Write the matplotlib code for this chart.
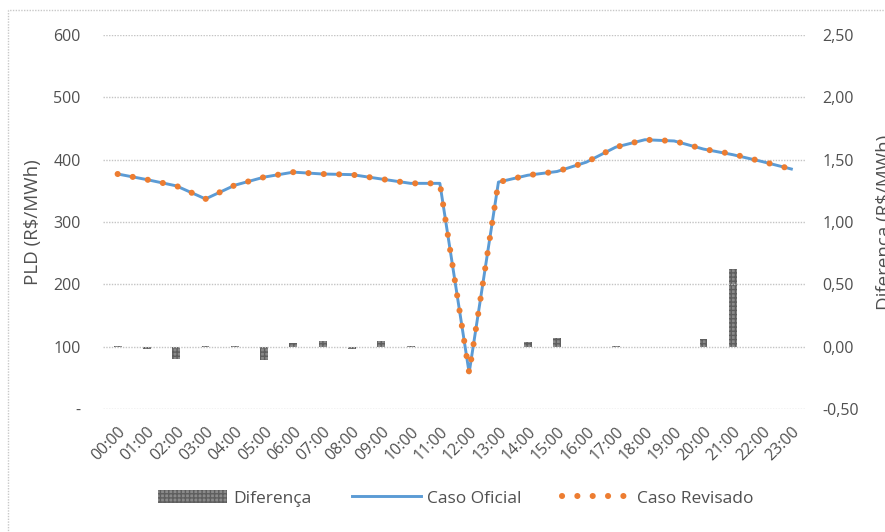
import matplotlib
matplotlib.use('Agg')
import matplotlib.pyplot as plt
import matplotlib.ticker as mticker
from matplotlib.patches import Rectangle, Patch
from matplotlib.lines import Line2D
import numpy as np

plt.rcParams['font.family'] = ['Open Sans', 'DejaVu Sans']

hours = ['{:02d}:00'.format(h) for h in range(24)]

# PLD (R$/MWh), eixo esquerdo
caso_oficial = [377, 368, 358, 337, 359, 372, 380, 377, 376, 369, 362, 362,
                58, 364, 375, 381, 396, 420, 432, 430, 417, 408, 397, 385]
caso_revisado = [377, 368, 358, 337, 359, 372, 380, 377, 376, 369, 362, 362,
                 58, 364, 375, 381, 396, 420, 432, 430, 417, 409, 397, 385]
# diferenca (R$/MWh), eixo direito
diferenca = [0.005, -0.02, -0.10, 0.005, 0.005, -0.105, 0.03, 0.045, -0.02, 0.045,
             0.005, 0.0, 0.0, 0.0, 0.04, 0.07, -0.005, 0.005, 0.0, 0.0,
             0.065, 0.625, 0.0, -0.005]

left_ticks = [0, 100, 200, 300, 400, 500, 600]
right_ticks = [-0.5, 0.0, 0.5, 1.0, 1.5, 2.0, 2.5]

txt_col = '#505050'
blue = '#5B9BD5'
orange = '#ED7D31'
dots = (0, (0.01, 2.5))

fig = plt.figure(figsize=(8.85, 5.32), dpi=100)
ax = fig.add_axes([103/885, 1-409/532, 703/885, 374/532])
ax2 = ax.twinx()

x = np.arange(len(hours))

# bars on the secondary axis
ax2.bar(x, diferenca, width=0.27, facecolor='#8a8a8a', edgecolor='#5e5e5e',
        hatch='++++', linewidth=0)
ax2.set_ylim(-0.5, 2.5)
ax2.set_yticks(right_ticks)
ax2.yaxis.set_major_formatter(mticker.FuncFormatter(lambda v, p: '{:.2f}'.format(v).replace('.', ',')))

ax.plot(x, caso_oficial, color=blue, lw=2.1, zorder=3)
ax.plot(x, caso_revisado, color=orange, lw=4.4, linestyle=dots,
        dash_capstyle='round', zorder=4)
ax.set_ylim(0, 600)
ax.set_xlim(-0.5, 23.5)
ax.set_yticks(left_ticks)
ax.set_yticklabels(['-' if v == 0 else str(v) for v in left_ticks])
ax.set_xticks(x)
ax.set_xticklabels(hours, rotation=45, ha='right', rotation_mode='anchor')

ax.set_zorder(ax2.get_zorder() + 1)
ax.patch.set_visible(False)

ax.yaxis.grid(True, color='#c4c4c4', linestyle=(0, (1, 1)), lw=1.0)
ax.set_axisbelow(True)

for a in (ax, ax2):
    for s in a.spines.values():
        s.set_visible(False)
    a.tick_params(length=0, labelsize=11.5, labelcolor=txt_col)
ax.tick_params(axis='y', pad=16)
ax.tick_params(axis='x', pad=11)
ax2.tick_params(axis='y', pad=12)

ax.set_ylabel('PLD (R$/MWh)', fontsize=13.5, color=txt_col, labelpad=8)
ax2.set_ylabel('Diferença (R$/MWh)', fontsize=13.5, color=txt_col, labelpad=12)

handles = [Patch(facecolor='#8a8a8a', edgecolor='#5e5e5e', hatch='++++', linewidth=0),
           Line2D([], [], color=blue, lw=2.1),
           Line2D([], [], color=orange, lw=4.4, linestyle=dots, dash_capstyle='round')]
labels = ['Diferença', 'Caso Oficial', 'Caso Revisado']
fig.legend(handles, labels, loc='center', bbox_to_anchor=(0.515, 0.063), ncol=3,
           frameon=False, fontsize=12.5, labelcolor=txt_col, handlelength=4.0,
           handleheight=0.8, columnspacing=2.3, handletextpad=0.35)

# outer dotted frame
fig.patches.append(Rectangle((8/885, -0.05), 1.1, 1.05 - 10/532, transform=fig.transFigure,
                             fill=False, edgecolor='#c8c8c8', linestyle=(0, (1, 1)), lw=1.0))

fig.savefig('out.png', dpi=100)
